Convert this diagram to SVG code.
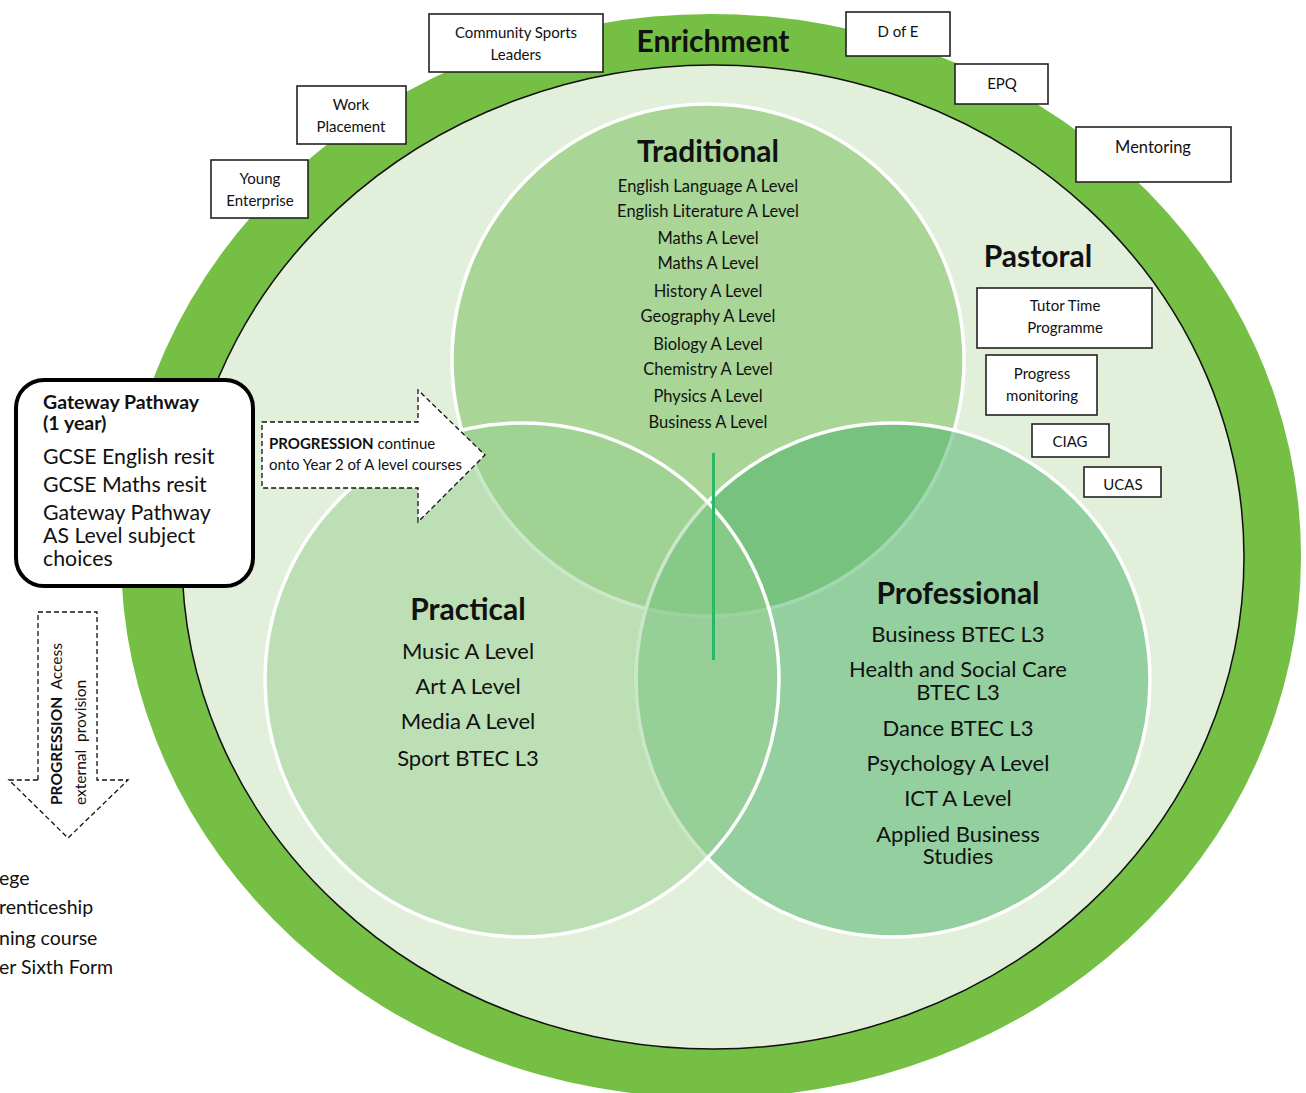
<svg xmlns="http://www.w3.org/2000/svg" width="1306" height="1093" viewBox="0 0 1306 1093">
<style>
text{font-family:Lato,"Liberation Sans",sans-serif;fill:#111}
.t{font-weight:bold;font-size:30px;text-anchor:middle}
.li{font-size:16.5px;text-anchor:middle}
.lg{font-size:22px;text-anchor:middle}
.bx{fill:#fff;stroke:#222;stroke-width:1.6}
.bt{font-size:15px;text-anchor:middle}
.venn{fill-opacity:0.5;stroke:#fff;stroke-width:3.5}
.dash{fill:#fff;stroke:#111;stroke-width:1.3;stroke-dasharray:5 3}
.gw{font-size:21.3px}
.bl{font-size:19.5px}
</style>
<rect width="1306" height="1093" fill="#fff"/>
<g id="enrichment-ring">
<ellipse cx="711" cy="556" rx="590" ry="542" fill="#74bf44"/>
<ellipse cx="713" cy="557" rx="531" ry="492" fill="#e2efda" stroke="#111" stroke-width="1.5"/>
<text class="t" x="713" y="52">Enrichment</text>
</g>
<g id="traditional">
<circle class="venn" cx="708" cy="360" r="256" fill="#70bb54"/>
</g>
<g id="professional">
<circle class="venn" cx="893" cy="680" r="257" fill="#46af66"/>
</g>
<g id="practical">
<circle class="venn" cx="522" cy="680" r="257" fill="#98cf90"/>
</g>
<g id="connectors">
<line x1="713.5" y1="453" x2="713.5" y2="660" stroke="#2bb866" stroke-width="3"/>
<path class="dash" d="M262,422 H418 V390 L485,455 L418,522 V488 H262 Z"/>
<path class="dash" d="M38,780 V612 H97 V780 H128 L68,838 L9,780 Z"/>
</g>
<g id="traditional-text">
<text class="t" x="708" y="162">Traditional</text>
<text class="li" x="708" y="192">English Language A Level</text>
<text class="li" x="708" y="217">English Literature A Level</text>
<text class="li" x="708" y="244">Maths A Level</text>
<text class="li" x="708" y="269">Maths A Level</text>
<text class="li" x="708" y="297">History A Level</text>
<text class="li" x="708" y="322">Geography A Level</text>
<text class="li" x="708" y="350">Biology A Level</text>
<text class="li" x="708" y="375">Chemistry A Level</text>
<text class="li" x="708" y="402">Physics A Level</text>
<text class="li" x="708" y="428">Business A Level</text>
</g>
<g id="practical-text">
<text class="t" x="468" y="620">Practical</text>
<text class="lg" x="468" y="659">Music A Level</text>
<text class="lg" x="468" y="694">Art A Level</text>
<text class="lg" x="468" y="729">Media A Level</text>
<text class="lg" x="468" y="766">Sport BTEC L3</text>
</g>
<g id="professional-text">
<text class="t" x="958" y="604">Professional</text>
<text class="lg" x="958" y="642">Business BTEC L3</text>
<text class="lg" x="958" y="677">Health and Social Care</text>
<text class="lg" x="958" y="700">BTEC L3</text>
<text class="lg" x="958" y="736">Dance BTEC L3</text>
<text class="lg" x="958" y="771">Psychology A Level</text>
<text class="lg" x="958" y="806">ICT A Level</text>
<text class="lg" x="958" y="842">Applied Business</text>
<text class="lg" x="958" y="864">Studies</text>
</g>
<g id="box-community-sports">
<rect class="bx" x="429" y="14" width="174" height="58"/>
<text class="bt" x="516" y="38">Community Sports</text>
<text class="bt" x="516" y="60">Leaders</text>
</g>
<g id="box-work-placement">
<rect class="bx" x="297" y="86" width="109" height="58"/>
<text class="bt" x="351" y="110">Work</text>
<text class="bt" x="351" y="132">Placement</text>
</g>
<g id="box-young-enterprise">
<rect class="bx" x="211" y="160" width="97" height="58"/>
<text class="bt" x="260" y="184">Young</text>
<text class="bt" x="260" y="206">Enterprise</text>
</g>
<g id="box-dofe">
<rect class="bx" x="846" y="12" width="104" height="44"/>
<text class="bt" x="898" y="37">D of E</text>
</g>
<g id="box-epq">
<rect class="bx" x="955" y="64" width="93" height="40"/>
<text class="bt" x="1002" y="89">EPQ</text>
</g>
<g id="box-mentoring">
<rect class="bx" x="1076" y="127" width="155" height="55"/>
<text class="bt" x="1153" y="153" style="font-size:16.5px">Mentoring</text>
</g>
<g id="pastoral">
<text class="t" x="1038" y="267">Pastoral</text>
</g>
<g id="box-tutor-time">
<rect class="bx" x="977" y="288" width="175" height="60"/>
<text class="bt" x="1065" y="311">Tutor Time</text>
<text class="bt" x="1065" y="333">Programme</text>
</g>
<g id="box-progress">
<rect class="bx" x="986" y="355" width="111" height="60"/>
<text class="bt" x="1042" y="379">Progress</text>
<text class="bt" x="1042" y="401">monitoring</text>
</g>
<g id="box-ciag">
<rect class="bx" x="1032" y="424" width="77" height="33"/>
<text class="bt" x="1070" y="447">CIAG</text>
</g>
<g id="box-ucas">
<rect class="bx" x="1084" y="467" width="77" height="30"/>
<text class="bt" x="1123" y="490">UCAS</text>
</g>
<g id="gateway">
<rect x="16" y="380" width="237" height="206" rx="28" fill="#fff" stroke="#000" stroke-width="4"/>
<text x="43" y="409" style="font-weight:bold;font-size:19.5px">Gateway Pathway</text>
<text x="43" y="430" style="font-weight:bold;font-size:19.5px">(1 year)</text>
<text class="gw" x="43" y="464">GCSE English resit</text>
<text class="gw" x="43" y="492">GCSE Maths resit</text>
<text class="gw" x="43" y="520">Gateway Pathway</text>
<text class="gw" x="43" y="543">AS Level subject</text>
<text class="gw" x="43" y="566">choices</text>
</g>
<g id="progression-right-label">
<text x="269" y="449" style="font-size:15px"><tspan font-weight="bold">PROGRESSION</tspan> continue</text>
<text x="269" y="470" style="font-size:15px">onto Year 2 of A level courses</text>
</g>
<g id="progression-down-label">
<text transform="translate(62,805) rotate(-90)" style="font-size:15.5px;white-space:pre"><tspan font-weight="bold">PROGRESSION</tspan>  Access</text>
<text transform="translate(86,805) rotate(-90)" style="font-size:15.5px;white-space:pre">external  provision</text>
</g>
<g id="external-options">
<text class="bl" x="-1" y="885">ege</text>
<text class="bl" x="-1" y="914">renticeship</text>
<text class="bl" x="-1" y="945">ning course</text>
<text class="bl" x="-1" y="974">er Sixth Form</text>
</g>
</svg>
